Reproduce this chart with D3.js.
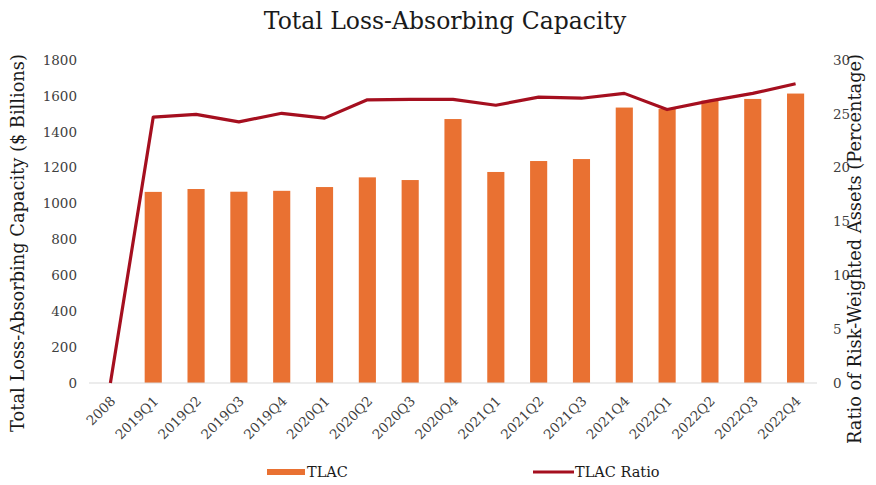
<!DOCTYPE html>
<html><head><meta charset="utf-8">
<script src="https://cdn.jsdelivr.net/npm/d3@7"></script>
<style>body{margin:0;background:#fff;} svg{display:block;}</style>
</head><body>
<svg id="c" width="876" height="485"></svg>
<script>
const categories = ["2008","2019Q1","2019Q2","2019Q3","2019Q4","2020Q1","2020Q2","2020Q3","2020Q4","2021Q1","2021Q2","2021Q3","2021Q4","2022Q1","2022Q2","2022Q3","2022Q4"];
const tlac = [0,1065,1081,1066,1071,1092,1146,1131,1471,1176,1237,1248,1535,1528,1574,1583,1613];
const tlacRatio = [0,24.7,24.95,24.25,25.05,24.6,26.3,26.35,26.35,25.8,26.55,26.45,26.9,25.4,26.2,26.9,27.8];
const leftTicks = [0,200,400,600,800,1000,1200,1400,1600,1800];
const rightTicks = [0,5,10,15,20,25,30];

const svg = d3.select("#c");
const font = "'DejaVu Serif', 'Liberation Serif', serif";
const pLeft = 89, pRight = 817, pTop = 60, pBottom = 383;

const x = d3.scaleBand().domain(categories).range([pLeft, pRight]).paddingInner(0.6).paddingOuter(0.3);
const xc = d => x(d) + x.bandwidth()/2;
const yL = d3.scaleLinear().domain([0,1800]).range([pBottom, pTop]);
const yR = d3.scaleLinear().domain([0,30]).range([pBottom, pTop]);

svg.append("text").attr("x", 445).attr("y", 29).attr("text-anchor","middle")
  .style("font-family", font).style("font-size","23.5px").attr("fill","#1a1a1a")
  .text("Total Loss-Absorbing Capacity");

// bars
svg.append("g").selectAll("rect").data(categories).join("rect")
  .attr("x", d => x(d)).attr("width", x.bandwidth())
  .attr("y", (d,i) => yL(tlac[i])).attr("height", (d,i) => pBottom - yL(tlac[i]))
  .attr("fill", "#E97132");

// baseline
svg.append("line").attr("x1", pLeft).attr("x2", pRight).attr("y1", pBottom).attr("y2", pBottom)
  .attr("stroke", "#d9d9d9").attr("stroke-width", 1);

// line
const line = d3.line().x((d,i) => xc(categories[i])).y(d => yR(d));
svg.append("path").datum(tlacRatio).attr("d", line).attr("fill","none")
  .attr("stroke","#A50F1F").attr("stroke-width",3.2).attr("stroke-linejoin","round");

// left axis
const axL = d3.axisLeft(yL).tickValues(leftTicks).tickFormat(d3.format("d")).tickSize(0).tickPadding(0);
const gL = svg.append("g").attr("transform", `translate(77,0)`).call(axL);
gL.select(".domain").remove();
gL.selectAll("text").style("font-family", font).style("font-size","13.5px").attr("fill","#404040");

// right axis
const axR = d3.axisRight(yR).tickValues(rightTicks).tickSize(0).tickPadding(0);
const gR = svg.append("g").attr("transform", `translate(833,0)`).call(axR);
gR.select(".domain").remove();
gR.selectAll("text").style("font-family", font).style("font-size","13.5px").attr("fill","#404040");

// x axis
const axX = d3.axisBottom(x).tickSize(0).tickPadding(0);
const gX = svg.append("g").attr("transform", `translate(0,${pBottom})`).call(axX);
gX.select(".domain").remove();
gX.selectAll("text").style("font-family", font).style("font-size","13.5px").attr("fill","#404040")
  .attr("text-anchor","end").attr("dy","0").attr("transform","translate(6,19) rotate(-45)");

// axis titles
svg.append("text").attr("transform","translate(24,243) rotate(-90)").attr("text-anchor","middle")
  .style("font-family", font).style("font-size","17.8px").attr("fill","#1a1a1a")
  .text("Total Loss-Absorbing Capacity ($ Billions)");
svg.append("text").attr("transform","translate(861,249) rotate(-90)").attr("text-anchor","middle")
  .style("font-family", font).style("font-size","17.8px").attr("fill","#1a1a1a")
  .text("Ratio of Risk-Weighted Assets (Percentage)");

// legend
const lg = svg.append("g");
lg.append("rect").attr("x",267).attr("y",469).attr("width",38).attr("height",6).attr("fill","#E97132");
lg.append("text").attr("x",307).attr("y",477).style("font-family",font).style("font-size","14.5px").attr("fill","#1a1a1a").text("TLAC");
lg.append("line").attr("x1",533).attr("x2",574).attr("y1",472).attr("y2",472).attr("stroke","#A50F1F").attr("stroke-width",3.2);
lg.append("text").attr("x",575).attr("y",477).style("font-family",font).style("font-size","14.5px").attr("fill","#1a1a1a").text("TLAC Ratio");
</script>
</body></html>
